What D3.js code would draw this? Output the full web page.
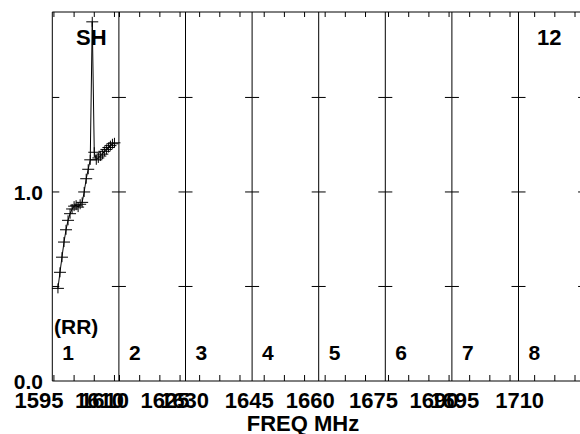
<!DOCTYPE html>
<html>
	<head>
		<title>POSSM SH</title>
		<script src="https://d3js.org/d3.v7.min.js"></script>
		<style>
			body { margin: 0; background: #fff; }
			text { font-family: "Liberation Sans", Arial, sans-serif; font-weight: bold; fill: #000; }
			.frame line { stroke: #000; stroke-width: 1; fill: none; }
		</style>
	</head>
	<body>
		<div class="possm"></div>
		<script>
			// IF panels: start frequency of each sub-band (MHz), all same width
			var ifStart = [1594.6, 1609.85, 1626.5, 1642, 1658.4, 1674.2, 1690.6, 1706];
			var ifWidth = 16.5;
			var ifNames = ["1", "2", "3", "4", "5", "6", "7", "8"];
			var ifLabels = [[1595, 1610], [1610, 1625], [1630], [1645], [1660], [1675, 1690], [1695], [1710]];

			// data of IF 1 (amplitude per channel)
			var freq1 = [1596.0, 1596.5, 1597.0, 1597.5, 1598.0, 1598.5, 1599.0, 1599.5, 1600.0, 1600.5,
				1601.0, 1601.5, 1602.0, 1602.5, 1603.0, 1603.5, 1604.0, 1604.5, 1605.0, 1605.5,
				1606.0, 1606.5, 1607.0, 1607.5, 1608.0, 1608.5, 1609.0, 1609.5, 1610.0];
			var amp1 = [0.49, 0.575, 0.655, 0.735, 0.80, 0.85, 0.885, 0.91, 0.925, 0.93,
				0.92, 0.935, 0.945, 1.00, 1.07, 1.12, 1.17, 1.90, 1.21, 1.17,
				1.18, 1.19, 1.20, 1.215, 1.225, 1.235, 1.245, 1.255, 1.26];

			var yTicks = [0.5, 1.0, 1.5];
			var yLabels = [0.0, 1.0];

			(function() {
				var width = 580, height = 434;
				var left = 52.3, panelW = 66.6, plotTop = 12, plotBottom = 381;

				var svg = d3.select(".possm").append("svg")
					.attr("width", width)
					.attr("height", height);

				var panelX = d3.scaleLinear().domain([0, ifStart.length]).range([left, left + ifStart.length * panelW]);
				var y = d3.scaleLinear().domain([0, 1.952]).range([plotBottom, plotTop]);

				var frame = svg.append("g").attr("class", "frame");

				// outer box
				frame.append("line").attr("x1", left).attr("x2", panelX(ifStart.length)).attr("y1", plotTop).attr("y2", plotTop);
				frame.append("line").attr("x1", left).attr("x2", panelX(ifStart.length)).attr("y1", plotBottom).attr("y2", plotBottom);

				ifStart.forEach(function(f0, k) {
					var x0 = panelX(k), x1 = panelX(k + 1);
					var x = d3.scaleLinear().domain([f0, f0 + ifWidth]).range([x0, x1]);
					var g = frame.append("g");

					g.append("line").attr("x1", x0).attr("x2", x0).attr("y1", plotTop).attr("y2", plotBottom);

					// freq ticks (every 5 MHz) top and bottom
					var ticks = d3.range(Math.ceil(f0 / 5) * 5, f0 + ifWidth, 5);
					ticks.forEach(function(t) {
						g.append("line").attr("x1", x(t)).attr("x2", x(t)).attr("y1", plotBottom).attr("y2", plotBottom - 6);
						g.append("line").attr("x1", x(t)).attr("x2", x(t)).attr("y1", plotTop).attr("y2", plotTop + 5);
					});

					// amplitude ticks on both edges, pointing inward
					yTicks.forEach(function(v) {
						g.append("line").attr("x1", x0).attr("x2", x0 + 7).attr("y1", y(v)).attr("y2", y(v));
						g.append("line").attr("x1", x1 - 7).attr("x2", x1).attr("y1", y(v)).attr("y2", y(v));
					});

					svg.selectAll(null).data(ifLabels[k]).enter().append("text")
						.attr("x", function(d) { return x(d) - 15; })
						.attr("y", 408)
						.attr("text-anchor", "middle")
						.style("font-size", "22px")
						.text(function(d) { return d; });

					svg.append("text")
						.attr("x", x0 + 10)
						.attr("y", 360)
						.style("font-size", "21px")
						.text(ifNames[k]);
				});

				svg.selectAll(".ylab").data(yLabels).enter().append("text")
					.attr("x", 43)
					.attr("y", function(d) { return y(d) + 8; })
					.attr("text-anchor", "end")
					.style("font-size", "21px")
					.text(function(d) { return d3.format(".1f")(d); });

				// IF 1 spectrum
				var x1s = d3.scaleLinear().domain([ifStart[0], ifStart[0] + ifWidth]).range([panelX(0), panelX(1)]);
				var pts = freq1.map(function(f, i) { return [x1s(f), y(amp1[i])]; });

				svg.append("path")
					.attr("d", d3.line()(pts))
					.attr("fill", "none")
					.attr("stroke", "#000")
					.attr("stroke-width", 1);

				svg.append("g").selectAll("path").data(pts).enter().append("path")
					.attr("d", function(p) {
						return "M" + (p[0] - 6) + "," + p[1] + "h12M" + p[0] + "," + (p[1] - 5) + "v10";
					})
					.attr("stroke", "#000")
					.attr("stroke-width", 1);

				svg.append("text").attr("x", 76).attr("y", 45).style("font-size", "22px").text("SH");
				svg.append("text").attr("x", 537).attr("y", 45).style("font-size", "22px").text("12");
				svg.append("text").attr("x", 54).attr("y", 334).style("font-size", "21px").text("(RR)");

				svg.append("text")
					.attr("x", 303)
					.attr("y", 431)
					.attr("text-anchor", "middle")
					.style("font-size", "22px")
					.text("FREQ MHz");
			})();
		</script>
	</body>
</html>
